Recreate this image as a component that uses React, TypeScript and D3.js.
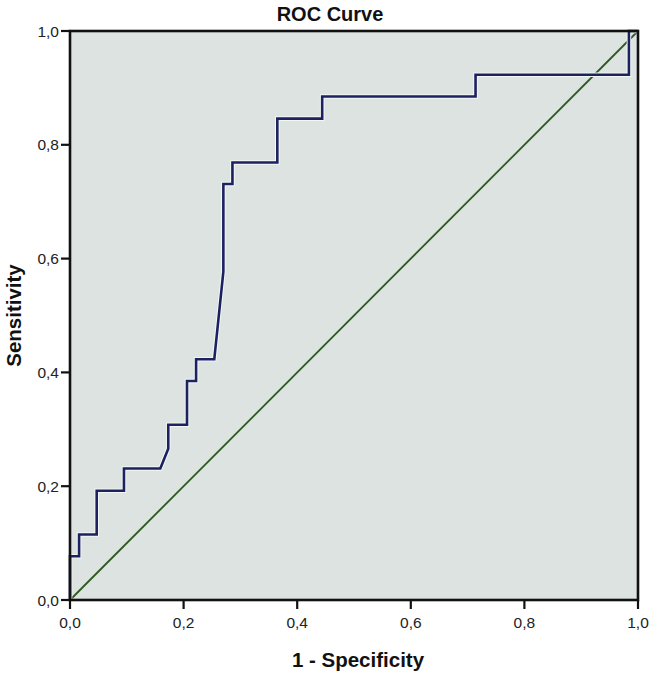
import React from "react";
import * as d3 from "d3";

const fprValues = [0, 0, 0.016, 0.016, 0.047, 0.047, 0.095, 0.095, 0.159, 0.173, 0.173, 0.206, 0.206, 0.222, 0.222, 0.254, 0.27, 0.27, 0.286, 0.286, 0.365, 0.365, 0.444, 0.444, 0.714, 0.714, 0.984, 0.984, 1];
const tprValues = [0, 0.077, 0.077, 0.115, 0.115, 0.192, 0.192, 0.231, 0.231, 0.266, 0.308, 0.308, 0.385, 0.385, 0.423, 0.423, 0.577, 0.731, 0.731, 0.769, 0.769, 0.846, 0.846, 0.885, 0.885, 0.923, 0.923, 1, 1];
const refLine = [0, 1];
const tickValues = [0, 0.2, 0.4, 0.6, 0.8, 1.0];

const W = 653;
const H = 674;
const left = 70;
const right = 638;
const top = 31;
const bottom = 600;

export default function App() {
  const x = d3.scaleLinear().domain([0, 1]).range([left, right]);
  const y = d3.scaleLinear().domain([0, 1]).range([bottom, top]);
  const pts: [number, number][] = fprValues.map((f, i) => [f, tprValues[i]]);
  const line = d3
    .line<[number, number]>()
    .x((d) => x(d[0]))
    .y((d) => y(d[1]));
  const fmt = (v: number) => v.toFixed(1).replace(".", ",");
  const font = "'Liberation Sans', Arial, sans-serif";
  return (
    <svg width={W} height={H} style={{ position: "absolute", left: 0, top: 0, background: "#fff" }}>
      <rect x={left} y={top} width={right - left} height={bottom - top} fill="#dce3e0" />
      <line
        x1={x(refLine[0])}
        y1={y(refLine[0])}
        x2={x(refLine[1])}
        y2={y(refLine[1])}
        stroke="#2b5a1f"
        strokeWidth={1.8}
      />
      <path d={line(pts) || ""} fill="none" stroke="#f4f7f6" strokeWidth={4.6} strokeLinejoin="miter" />
      <path d={line(pts) || ""} fill="none" stroke="#1c2160" strokeWidth={2.6} strokeLinejoin="miter" />
      <rect x={left} y={top} width={right - left} height={bottom - top} fill="none" stroke="#111" strokeWidth={2.6} />
      {tickValues.map((t) => (
        <g key={"x" + t}>
          <line x1={x(t)} x2={x(t)} y1={bottom} y2={bottom + 9} stroke="#111" strokeWidth={2.2} />
          <text x={x(t)} y={bottom + 28} textAnchor="middle" fontFamily={font} fontSize={15.5} fill="#222">
            {fmt(t)}
          </text>
        </g>
      ))}
      {tickValues.map((t) => (
        <g key={"y" + t}>
          <line x1={left - 9} x2={left} y1={y(t)} y2={y(t)} stroke="#111" strokeWidth={2.2} />
          <text x={left - 11} y={y(t) + 5.5} textAnchor="end" fontFamily={font} fontSize={15.5} fill="#222">
            {fmt(t)}
          </text>
        </g>
      ))}
      <text x={330} y={21} textAnchor="middle" fontFamily={font} fontWeight="bold" fontSize={20} fill="#111">
        ROC Curve
      </text>
      <text x={358} y={667} textAnchor="middle" fontFamily={font} fontWeight="bold" fontSize={20.5} fill="#111">
        1 - Specificity
      </text>
      <text
        transform={`translate(21, ${(top + bottom) / 2}) rotate(-90)`}
        textAnchor="middle"
        fontFamily={font}
        fontWeight="bold"
        fontSize={20.5}
        fill="#111"
      >
        Sensitivity
      </text>
    </svg>
  );
}
